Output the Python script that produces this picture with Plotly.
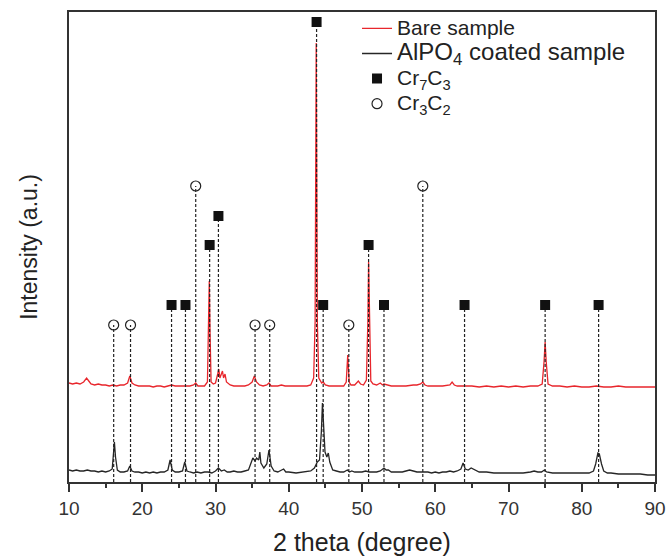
import plotly.graph_objects as go

# ---- data (intensity in arbitrary units) ----
bare_x = [10.0, 10.5, 11.0, 11.5, 12.0, 12.4, 12.7, 13.0, 13.5, 14.0, 14.5, 15.0, 15.5, 16.0, 16.5,
          17.0, 17.5, 18.0, 18.3, 18.6, 19.0, 19.5, 20.0, 21.0, 21.5, 22.0, 22.5, 23.0, 23.5, 24.0,
          24.5, 25.0, 25.5, 26.0, 26.5, 27.0, 27.3, 27.6, 28.0, 28.5, 28.9, 29.05, 29.15, 29.25, 29.4,
          29.7, 30.0, 30.3, 30.45, 30.6, 30.8, 30.95, 31.1, 31.3, 31.5, 32.0, 32.5, 33.0, 33.5, 34.0,
          34.5, 35.0, 35.3, 35.6, 36.0, 36.5, 37.0, 37.3, 37.6, 38.0, 38.5, 39.0, 39.5, 40.0, 41.0,
          42.0, 42.5, 43.0, 43.4, 43.6, 43.75, 43.9, 44.1, 44.5, 44.7, 45.0, 45.5, 46.0, 46.5, 47.0,
          47.5, 47.85, 48.05, 48.25, 48.5, 49.0, 49.5, 49.8, 50.2, 50.6, 50.8, 50.9, 51.0, 51.2, 51.5,
          52.0, 52.5, 52.8, 53.0, 53.5, 54.0, 55.0, 56.0, 57.0, 57.5, 58.0, 58.3, 58.6, 59.0, 60.0,
          61.0, 62.0, 62.3, 62.6, 63.0, 64.0, 65.0, 66.0, 67.0, 68.0, 69.0, 70.0, 71.0, 72.0, 73.0,
          74.0, 74.6, 74.85, 75.0, 75.15, 75.4, 76.0, 77.0, 78.0, 79.0, 80.0, 81.0, 82.0, 83.0, 84.0,
          85.0, 86.0, 87.0, 88.0, 89.0, 90.0]
bare_y = [99, 98, 99, 98, 100, 104, 101, 98, 97, 98, 97, 97, 96, 97, 96,
          97, 97, 99, 106, 99, 97, 96, 96, 96, 95, 96, 96, 95, 96, 97,
          96, 96, 96, 96, 96, 97, 99, 96, 96, 96, 100, 150, 201, 150, 100,
          98, 99, 108, 113, 104, 108, 111, 104, 108, 100, 97, 96, 96, 96, 96,
          97, 100, 106, 100, 97, 96, 97, 99, 96, 96, 96, 97, 96, 96, 96,
          96, 96, 97, 104, 160, 439, 160, 104, 99, 100, 97, 96, 96, 96, 96,
          96, 100, 127, 100, 97, 97, 101, 98, 97, 102, 160, 220, 160, 101, 98,
          97, 99, 97, 98, 97, 96, 96, 96, 97, 97, 98, 100, 97, 96, 96,
          96, 97, 100, 97, 96, 96, 96, 95, 96, 95, 96, 95, 96, 95, 96,
          96, 98, 120, 140, 120, 98, 96, 96, 95, 96, 95, 95, 96, 95, 95,
          96, 95, 95, 95, 95, 95]

coated_x = [10.0, 10.5, 11.0, 11.5, 12.0, 12.5, 13.0, 13.5, 14.0, 14.5, 15.0, 15.5, 15.9, 16.1, 16.2,
            16.35, 16.6, 17.0, 17.5, 18.0, 18.3, 18.6, 19.0, 19.5, 20.0, 20.5, 21.0, 21.5, 22.0, 22.5,
            23.0, 23.5, 23.8, 24.1, 24.5, 25.0, 25.5, 25.8, 26.1, 26.5, 27.0, 27.5, 28.0, 28.5, 29.0,
            29.5, 30.0, 30.4, 30.8, 31.2, 31.6, 32.0, 32.5, 33.0, 33.5, 34.0, 34.5, 34.9, 35.1, 35.4,
            35.6, 35.9, 36.05, 36.2, 36.6, 37.0, 37.3, 37.6, 38.0, 38.5, 39.0, 39.3, 39.6, 40.0, 41.0,
            42.0, 42.5, 43.0, 43.5, 43.9, 44.2, 44.45, 44.6, 44.75, 44.95, 45.2, 45.4, 45.6, 46.0, 46.5,
            47.0, 47.5, 48.0, 48.3, 48.6, 49.0, 49.5, 50.0, 50.5, 51.0, 51.5, 52.0, 52.5, 53.0, 53.3,
            53.6, 54.0, 54.5, 55.0, 55.5, 56.0, 56.5, 57.0, 57.5, 58.0, 58.5, 59.0, 59.5, 60.0, 60.5,
            61.0, 61.5, 62.0, 62.5, 63.0, 63.5, 63.8, 64.1, 64.5, 64.9, 65.2, 65.6, 66.0, 67.0, 68.0,
            69.0, 70.0, 71.0, 72.0, 73.0, 73.5, 74.0, 74.5, 74.9, 75.2, 76.0, 77.0, 78.0, 79.0, 80.0,
            81.0, 81.6, 81.9, 82.2, 82.4, 82.7, 83.0, 83.5, 84.0, 85.0, 86.0, 87.0, 88.0, 89.0, 90.0]
coated_y = [12, 11, 12, 11, 11, 12, 11, 11, 10, 11, 10, 11, 13, 30, 40,
            25, 12, 10, 10, 11, 16, 11, 10, 10, 9, 10, 9, 10, 9, 10,
            10, 12, 22, 12, 10, 10, 11, 20, 11, 10, 9, 10, 9, 10, 10,
            9, 11, 14, 11, 12, 10, 10, 11, 10, 10, 11, 12, 20, 24, 21,
            24, 22, 30, 19, 14, 18, 32, 16, 11, 10, 12, 13, 10, 10, 9,
            10, 10, 11, 14, 20, 22, 50, 79, 50, 30, 25, 29, 20, 12, 11,
            10, 10, 12, 10, 11, 10, 10, 10, 11, 10, 10, 10, 11, 14, 12,
            12, 10, 10, 10, 10, 11, 12, 11, 10, 10, 10, 10, 9, 10, 9,
            10, 10, 11, 10, 11, 13, 19, 13, 12, 14, 13, 11, 10, 10, 9,
            9, 9, 9, 9, 10, 11, 10, 10, 12, 10, 9, 9, 9, 9, 9,
            9, 11, 18, 29, 28, 18, 11, 9, 9, 8, 8, 8, 8, 7, 7]

cr7c3_x = [24.0, 25.9, 29.2, 30.4, 43.8, 44.7, 50.9, 53.0, 64.0, 75.0, 82.3]
cr7c3_y = [177, 177, 237, 266, 460, 177, 237, 177, 177, 177, 177]
cr3c2_x = [16.1, 18.4, 27.3, 35.4, 37.4, 48.2, 58.3]
cr3c2_y = [157, 157, 296, 157, 157, 157, 296]

x_ticks = [10, 20, 30, 40, 50, 60, 70, 80, 90]

FONT = "Liberation Sans, Arial, sans-serif"
fig = go.Figure()

fig.add_trace(go.Scatter(x=bare_x, y=bare_y, mode="lines",
                         name='<span style="font-size:21px">Bare sample</span>',
                         line=dict(color="#e8262c", width=1.3)))
fig.add_trace(go.Scatter(x=coated_x, y=coated_y, mode="lines",
                         name='<span style="font-size:24px">AlPO<sub>4</sub> coated sample</span>',
                         line=dict(color="#262626", width=1.3)))

# dotted reference lines from each marker down to the axis
dx, dy = [], []
for xs, ys in ((cr7c3_x, cr7c3_y), (cr3c2_x, cr3c2_y)):
    for xv, yv in zip(xs, ys):
        dx += [xv, xv, None]
        dy += [0, yv, None]
fig.add_trace(go.Scatter(x=dx, y=dy, mode="lines", showlegend=False, hoverinfo="skip",
                         line=dict(color="#222222", width=1.2, dash="3px,2px")))

fig.add_trace(go.Scatter(x=cr7c3_x, y=cr7c3_y, mode="markers",
                         name='<span style="font-size:21px">Cr<sub>7</sub>C<sub>3</sub></span>',
                         marker=dict(symbol="square", size=10, color="#111111",
                                     line=dict(width=0))))
fig.add_trace(go.Scatter(x=cr3c2_x, y=cr3c2_y, mode="markers",
                         name='<span style="font-size:21px">Cr<sub>3</sub>C<sub>2</sub></span>',
                         marker=dict(symbol="circle-open", size=10, color="#222222",
                                     line=dict(width=1.2))))

fig.update_layout(
    width=667, height=556,
    margin=dict(l=69, r=12, t=12, b=74, autoexpand=False),
    paper_bgcolor="white", plot_bgcolor="white",
    font=dict(family=FONT, color="#333333"),
    legend=dict(x=0.4915, y=1.0025, xanchor="left", yanchor="top",
                bgcolor="rgba(0,0,0,0)", font=dict(size=17, family=FONT, color="#222222"),
                tracegroupgap=0),
    xaxis=dict(range=[10, 90], tickvals=x_ticks, ticktext=[str(t) for t in x_ticks],
               automargin=False,
               showline=True, linecolor="#333333", linewidth=2, mirror=True,
               ticks="outside", ticklen=8, tickwidth=1.5, tickcolor="#333333",
               minor=dict(dtick=5, tick0=5, ticks="outside", ticklen=4, tickwidth=1.5,
                          tickcolor="#333333"),
               showgrid=False, zeroline=False,
               tickfont=dict(size=19, family=FONT, color="#333333"),
               title=dict(text="2 theta (degree)", font=dict(size=25, family=FONT, color="#222222"),
                          standoff=16)),
    yaxis=dict(range=[0, 470], automargin=False,
               showline=True, linecolor="#333333", linewidth=2, mirror=True,
               showticklabels=False, ticks="", showgrid=False, zeroline=False,
               title=dict(text="Intensity (a.u.)", font=dict(size=23, family=FONT, color="#222222"),
                          standoff=23)),
)

fig.write_html("out.html")
